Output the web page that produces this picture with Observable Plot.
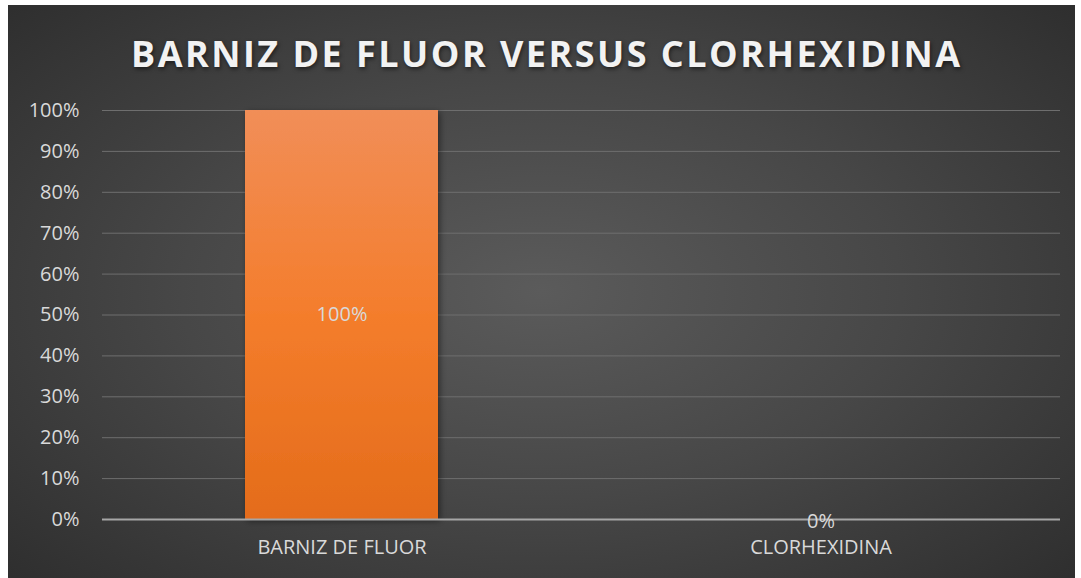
<!DOCTYPE html>
<html>
<head>
<meta charset="utf-8">
<script src="https://cdn.jsdelivr.net/npm/d3@7"></script>
<script src="https://cdn.jsdelivr.net/npm/@observablehq/plot@0.6"></script>
<style>
  html, body { margin: 0; padding: 0; background: #ffffff; }
  #wrap {
    position: absolute; left: 8px; top: 5px; width: 1067px; height: 573px;
    background: radial-gradient(ellipse 75% 80% at 50% 50%, #5b5b5b 0%, #474747 45%, #2a2a2a 100%);
    overflow: hidden;
  }
  #title {
    position: absolute; top: 24px; left: 4px; width: 1067px; text-align: center;
    font-family: "Open Sans", sans-serif; font-weight: 700; font-size: 36px;
    color: #f2f2f2; white-space: nowrap; line-height: 50px;
    text-shadow: 1px 2px 4px rgba(0,0,0,0.55);
  }
  #chart { position: absolute; left: 0; top: 0; }
  #chart svg { background: transparent; }
</style>
</head>
<body>
<div id="wrap">
  <div id="title"><span id="tspan">BARNIZ DE FLUOR VERSUS CLORHEXIDINA</span></div>
  <div id="chart"></div>
</div>
<script>
const categories = ["BARNIZ DE FLUOR", "CLORHEXIDINA"];
const values = [1.00, 0.00];
const valueLabels = ["100%", "0%"];
const yTicks = [0, 0.1, 0.2, 0.3, 0.4, 0.5, 0.6, 0.7, 0.8, 0.9, 1.0];

const data = categories.map((c, i) => ({category: c, value: values[i], label: valueLabels[i]}));

const font = '"Open Sans", sans-serif';

const plot = Plot.plot({
  width: 1067,
  height: 573,
  marginLeft: 94,
  marginRight: 15,
  marginTop: 105,
  marginBottom: 59,
  style: {background: "transparent", fontFamily: font, fontSize: "20px", color: "#d9d9d9"},
  x: {domain: categories, paddingInner: 0.597, paddingOuter: 0.2985, label: null},
  y: {domain: [0, 1], label: null},
  marks: [
    Plot.gridY(yTicks, {stroke: "#6e6e6e", strokeOpacity: 1, strokeWidth: 1}),
    Plot.axisY(yTicks, {tickSize: 0, tickPadding: 23, tickFormat: d => Math.round(d * 100) + "%", fill: "#d9d9d9", fontSize: 20, label: null}),
    Plot.axisX({tickSize: 0, tickPadding: 20, fill: "#d9d9d9", fontSize: 20, label: null}),
    Plot.barY(data, {x: "category", y: "value", fill: "url(#barGrad)", className: "bars"}),
    Plot.ruleY([0], {stroke: "#a6a6a6", strokeWidth: 2}),
    Plot.text(data.filter(d => d.value > 0), {x: "category", y: d => d.value / 2, text: "label", fill: "#d9d9d9", fontSize: 20}),
    Plot.text(data.filter(d => d.value === 0), {x: "category", y: "value", text: "label", fill: "#d9d9d9", fontSize: 20, dy: 2})
  ]
});

const svg = d3.select(plot);
const defs = svg.insert("defs", ":first-child");
const g = defs.append("linearGradient").attr("id", "barGrad").attr("x1", 0).attr("y1", 0).attr("x2", 0).attr("y2", 1);
g.append("stop").attr("offset", "0%").attr("stop-color", "#f18e58");
g.append("stop").attr("offset", "50%").attr("stop-color", "#f47d2c");
g.append("stop").attr("offset", "100%").attr("stop-color", "#e46c1a");
const f = defs.append("filter").attr("id", "barShadow").attr("x", "-10%").attr("y", "-10%").attr("width", "130%").attr("height", "130%");
f.append("feDropShadow").attr("dx", 2).attr("dy", 2).attr("stdDeviation", 3).attr("flood-color", "#000").attr("flood-opacity", 0.45);
svg.selectAll(".bars rect").attr("filter", "url(#barShadow)");

document.getElementById("chart").appendChild(plot);

// fit title to target width with letter spacing
const tspan = document.getElementById("tspan");
const target = 829;
const txt = tspan.textContent;
const w = tspan.getBoundingClientRect().width;
const ls = (target - w) / (txt.length - 1);
tspan.style.letterSpacing = ls + "px";
tspan.style.marginRight = (-ls) + "px";
</script>
</body>
</html>
